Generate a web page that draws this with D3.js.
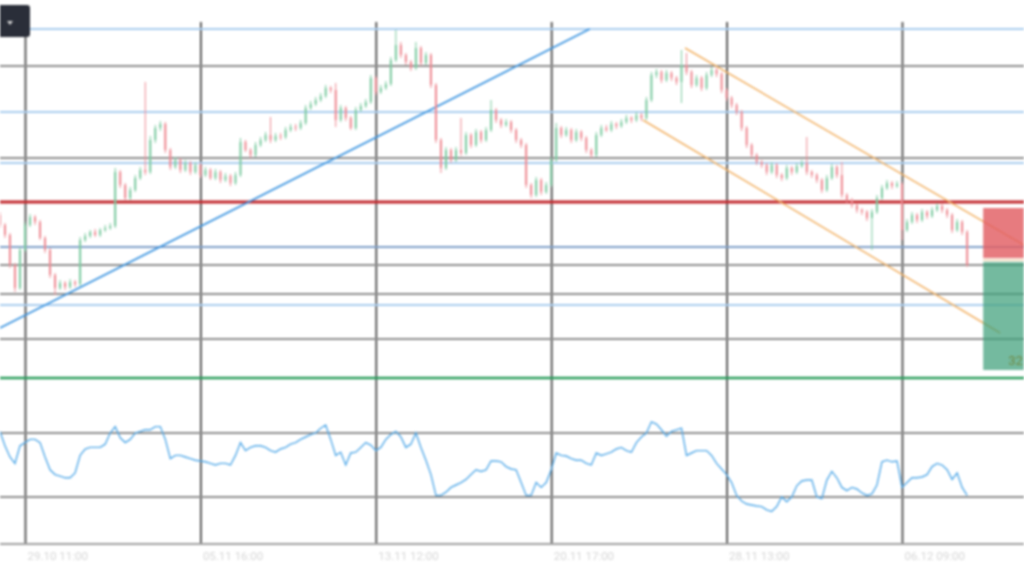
<!DOCTYPE html>
<html>
<head>
<meta charset="utf-8">
<script src="https://cdn.jsdelivr.net/npm/d3@7/dist/d3.min.js"></script>
<style>
  html, body { margin: 0; padding: 0; background: #ffffff; }
  svg { display: block; filter: blur(0.8px); }
</style>
</head>
<body>
<svg id="chart" width="1024" height="576"></svg>
<script>
// ---------------- DATA ----------------
const tickIndex = [5, 40, 75, 110, 145, 180];
const tickLabels = ["29.10 11:00", "05.11 16:00", "13.11 12:00", "20.11 17:00", "28.11 13:00", "06.12 09:00"];

const firstOpen = 205;
const closes = [195,185,155,132,170,195,203,198,182,170,
145,132,137,133,138,136,180,184,188,185,
190,192,194,248,235,222,230,242,250,248,
280,292,296,270,253,260,250,257,248,255,
245,250,242,248,240,244,237,245,278,270,
265,275,280,285,280,284,283,290,293,292,
297,312,316,320,324,332,330,300,312,302,
292,310,314,318,342,328,332,336,360,375,
365,358,352,372,357,365,335,280,252,270,
260,270,267,285,275,288,280,290,310,300,
295,298,290,280,275,235,225,240,228,235,
260,292,285,290,280,288,282,270,265,285,
292,290,296,294,298,302,300,305,302,320,
345,348,340,347,342,338,355,348,335,342,
332,345,350,346,330,322,315,308,292,275,
265,258,255,248,255,245,242,252,248,254,
257,248,245,240,230,242,253,245,225,220,
215,210,208,202,208,222,232,237,234,236,
190,198,205,200,208,204,210,214,210,205,
190,198,188,155];
const highs = [208,197,187,157,173,198,206,205,200,184,
172,147,140,139,141,140,183,187,190,191,
192,195,197,252,250,237,233,245,253,338,
284,295,299,298,272,263,262,260,259,258,
257,253,252,251,250,247,246,248,282,280,
272,278,283,288,303,287,287,293,296,296,
300,315,319,323,327,335,334,337,315,314,
304,313,317,321,345,344,335,339,363,390,
378,367,360,378,374,368,367,337,282,273,
272,273,302,288,287,291,290,293,320,312,
302,301,300,292,282,277,237,243,242,238,
263,297,294,293,292,291,290,284,272,288,
295,295,299,298,301,305,304,308,307,323,
348,351,350,350,349,344,370,367,350,345,
344,348,353,352,348,332,324,317,310,294,
277,267,260,257,258,257,247,255,254,257,
260,283,250,247,242,245,256,255,258,227,
222,217,212,210,211,225,235,240,239,239,
238,201,208,207,211,210,213,217,216,212,
207,201,200,190];
const lows = [192,182,152,128,130,168,193,195,180,167,
142,125,130,130,131,133,134,178,182,183,
183,188,190,192,232,220,220,228,240,245,
246,277,289,267,250,251,247,248,245,246,
242,243,240,240,237,238,234,235,243,268,
262,263,273,278,277,278,280,281,288,289,
290,295,310,314,318,322,327,293,298,299,
290,290,308,312,316,325,326,330,334,358,
362,355,349,350,354,355,332,277,247,250,
257,258,264,265,272,273,277,278,288,297,
292,293,287,277,272,232,222,223,225,226,
233,258,282,283,277,278,279,267,262,263,
283,288,288,291,292,296,297,298,299,300,
318,342,337,338,339,335,317,345,332,333,
329,330,343,343,327,319,312,305,289,272,
262,255,252,245,246,242,239,240,245,246,
252,245,242,237,227,228,240,242,222,217,
212,207,205,199,170,206,220,230,231,232,
180,188,196,197,198,201,202,208,207,202,
187,188,185,153];

const rsi = [71,62,55,51,62,64,66,66,64,55,
47,44,43,42,42,45,56,60,61,61,
61,63,70,74,67,64,66,70,71,72,
72,74,74,66,54,56,56,55,54,53,
52.5,52,51,50,51,51,50,56,64,59,
61,62,62,61,59,58,60,61,63,64,
66,67.5,69,70,73,75,66,56,58,50,
57.5,58,61,64,62.5,59,61,66,69,71,
67.5,61,63,70,61,53,44,31,31,33,
36,37.5,39,41,44,47,46,47,52.5,52.5,
52,49,47.5,47,39,31,31,39,36,39,
47,57.5,56,55.6,54,53,53,51,50,57.5,
56,57,58,60,61,59,58,64,67.5,70,
77,75.6,72,68,71,72,73,56,57.5,59,
59,59,56,51,47.5,44,39,31,27.5,25.6,
25,24.4,24,22,21,24,30,27,30,37,
40,40.6,40.6,30,29,40.6,46,42,36,34,
36,35,32.5,31,32,37.5,52,53,52,52.5,
36,39,42,42,42.5,44,49,51,50,47,
41,45,36,31];

// horizontal price levels and their kinds
const levelPrices = [391, 354, 308, 262, 257, 218, 173, 155, 126, 115, 81, 42];
const levelKinds  = ["light","gray","light","gray","light","red","blue","gray","gray","light","gray","green"];
const rsiLevels = [70, 30];

// drawings: [index, price]
const trendLine = [[0, 92], [117.7, 391]];
const channelUpper = [[136.7, 372], [204.3, 175]];
const channelLower = [[128.3, 300], [199.6, 87]];
// position tool: index range, stop (red) and target (green) zones
const positionIdx = [196.2, 204.3];
const stopZone = [212, 162];
const targetZone = [158, 50];
const positionLabel = "32";

// ---------------- STYLES ----------------
const levelStyle = {
  light: { stroke: "#a9cdef", width: 2 },
  gray:  { stroke: "#8e8e8e", width: 2 },
  red:   { stroke: "#c2282d", width: 3.2 },
  blue:  { stroke: "#7f9fc8", width: 2 },
  green: { stroke: "#2b9d5c", width: 2.6 }
};
const upColor = "#7ccaa0", downColor = "#ee8a92";

// ---------------- SCALES ----------------
const svg = d3.select("#chart");
const W = 1024, H = 576;
const x = d3.scaleLinear().domain([5, 180]).range([25, 902]);
const y = d3.scaleLinear().domain([0, 400]).range([420, 20]);
const yr = d3.scaleLinear().domain([30, 70]).range([497, 433]);
const axisY = 544;

// vertical grid lines (time ticks)
const xAxis = d3.axisBottom(x).tickValues(tickIndex)
  .tickFormat((d, i) => tickLabels[i]).tickSize(-(axisY - 22)).tickPadding(0);
const gx = svg.append("g").attr("transform", `translate(0,${axisY})`).call(xAxis);
gx.select(".domain").remove();
gx.selectAll(".tick line").attr("stroke", "#4a4a4a").attr("stroke-width", 1.8);
gx.selectAll(".tick text")
  .attr("text-anchor", "start").attr("dx", 2).attr("dy", 16)
  .attr("fill", "#d6d6d6").attr("font-size", 11.5)
  .attr("font-family", "Roboto, 'Noto Sans', sans-serif");

// horizontal levels
svg.append("g").selectAll("line").data(levelPrices).join("line")
  .attr("x1", 0).attr("x2", W)
  .attr("y1", d => y(d)).attr("y2", d => y(d))
  .attr("stroke", (d, i) => levelStyle[levelKinds[i]].stroke)
  .attr("stroke-width", (d, i) => levelStyle[levelKinds[i]].width);

// RSI levels
svg.append("g").selectAll("line").data(rsiLevels).join("line")
  .attr("x1", 0).attr("x2", W)
  .attr("y1", d => yr(d)).attr("y2", d => yr(d))
  .attr("stroke", "#8e8e8e").attr("stroke-width", 2);

// bottom axis line
svg.append("line").attr("x1", 0).attr("x2", W).attr("y1", axisY).attr("y2", axisY)
  .attr("stroke", "#a0a0a0").attr("stroke-width", 2);

// trend line and channel
const lineGen = d3.line().x(d => x(d[0])).y(d => y(d[1]));
svg.append("path").attr("d", lineGen(trendLine)).attr("stroke", "#3d95e0")
  .attr("stroke-width", 1.8).attr("fill", "none");
[channelUpper, channelLower].forEach(c => {
  svg.append("path").attr("d", lineGen(c)).attr("stroke", "#f2b266")
    .attr("stroke-width", 1.5).attr("fill", "none");
});

// position tool boxes
const px0 = x(positionIdx[0]), px1 = x(positionIdx[1]);
svg.append("rect").attr("x", px0).attr("width", px1 - px0)
  .attr("y", y(stopZone[0])).attr("height", y(stopZone[1]) - y(stopZone[0]))
  .attr("fill", "#e25e63").attr("fill-opacity", 0.82);
svg.append("rect").attr("x", px0).attr("width", px1 - px0)
  .attr("y", y(targetZone[0])).attr("height", y(targetZone[1]) - y(targetZone[0]))
  .attr("fill", "#3f9f7a").attr("fill-opacity", 0.72);
svg.append("line").attr("x1", px0).attr("x2", px1)
  .attr("y1", (y(stopZone[1]) + y(targetZone[0])) / 2).attr("y2", (y(stopZone[1]) + y(targetZone[0])) / 2)
  .attr("stroke", "#f3dcc0").attr("stroke-width", 2);
svg.append("text").attr("x", px0 + 25).attr("y", y(targetZone[1]) - 5)
  .attr("fill", "#6f8a45").attr("font-size", 13)
  .attr("font-family", "Roboto, 'Noto Sans', sans-serif").text(positionLabel);

// candles
const candles = closes.map((c, i) => ({
  i, o: i === 0 ? firstOpen : closes[i - 1], c, h: highs[i], l: lows[i]
}));
const cg = svg.append("g");
cg.selectAll("line").data(candles).join("line")
  .attr("x1", d => x(d.i)).attr("x2", d => x(d.i))
  .attr("y1", d => y(d.h)).attr("y2", d => y(d.l))
  .attr("stroke", d => d.c >= d.o ? upColor : downColor).attr("stroke-width", 1);
cg.selectAll("rect").data(candles).join("rect")
  .attr("x", d => x(d.i) - 1).attr("width", 2)
  .attr("y", d => y(Math.max(d.o, d.c)))
  .attr("height", d => Math.max(1, Math.abs(y(d.o) - y(d.c))))
  .attr("fill", d => d.c >= d.o ? upColor : downColor);

// RSI line
svg.append("path").datum(rsi)
  .attr("d", d3.line().x((d, i) => x(i)).y(d => yr(d)))
  .attr("fill", "none").attr("stroke", "#55aae8").attr("stroke-width", 1.4);

// top-left menu button
svg.append("rect").attr("x", -4).attr("y", 5).attr("width", 34).attr("height", 32)
  .attr("rx", 3).attr("fill", "#2a2e39");
svg.append("path").attr("d", "M7,21 L13,21 L10,25 Z").attr("fill", "#d8d8d8");
</script>
</body>
</html>
